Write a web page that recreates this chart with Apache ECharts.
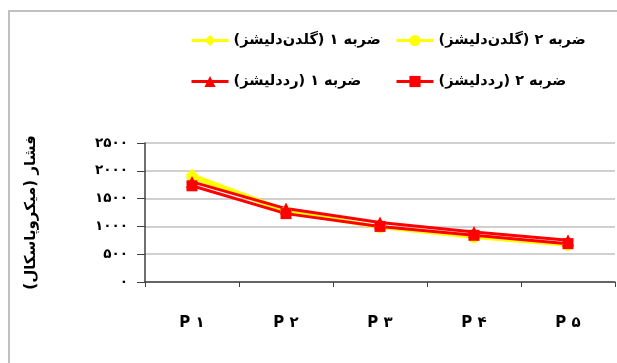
<!DOCTYPE html>
<html>
<head>
<meta charset="utf-8">
<script src="https://cdn.jsdelivr.net/npm/echarts@6/dist/echarts.min.js"></script>
<style>
  html, body { margin: 0; padding: 0; background: #fff; }
  #chart { width: 617px; height: 363px; }
</style>
</head>
<body>
<div id="chart"></div>
<script>
// Sampling points along the fruit
const categories = ['P ۱', 'P ۲', 'P ۳', 'P ۴', 'P ۵'];

// Pressure (micropascal) per impact and cultivar
const goldenHit1 = [1930, 1290, 990, 810, 670];
const goldenHit2 = [1880, 1260, 980, 800, 660];
const redHit1 = [1800, 1320, 1070, 900, 750];
const redHit2 = [1730, 1230, 1000, 840, 690];

const seriesNames = [
  'ضربه ۱ (گلدن‌دلیشز)',
  'ضربه ۲ (گلدن‌دلیشز)',
  'ضربه ۱ (رددلیشز)',
  'ضربه ۲ (رددلیشز)'
];

const yTicks = { min: 0, max: 2500, interval: 500 };
const yAxisTitle = 'فشار (میکروپاسکال)';

const FONT = 'DejaVu Sans';
const toFa = s => String(s).replace(/[0-9]/g, d => '۰۱۲۳۴۵۶۷۸۹'[+d]);

const YELLOW = '#ffff00';
const RED = '#ff0000';

function lineSeries(name, data, color, symbol, size) {
  return {
    name, type: 'line', data,
    symbol, symbolSize: size,
    lineStyle: { color, width: 3 },
    itemStyle: { color, borderWidth: 0 },
    emphasis: { disabled: true },
    animation: false
  };
}

function legendAt(name, left, top) {
  return {
    data: [name], left, top,
    itemWidth: 37, itemHeight: 14,
    lineStyle: { width: 3 },
    textStyle: { fontFamily: FONT, fontWeight: 'bold', fontSize: 14.5, color: '#000' },
    selectedMode: false
  };
}

const chart = echarts.init(document.getElementById('chart'), null, { renderer: 'canvas' });
chart.setOption({
  backgroundColor: '#fff',
  animation: false,
  graphic: [{
    type: 'rect', silent: true,
    shape: { x: 9, y: 11, width: 700, height: 400 },
    style: { fill: 'none', stroke: '#c0c0c0', lineWidth: 2 }
  }],
  legend: [
    legendAt(seriesNames[0], 185, 28),
    legendAt(seriesNames[1], 390, 28),
    legendAt(seriesNames[2], 185, 69),
    legendAt(seriesNames[3], 390, 69)
  ],
  grid: { left: 145, right: 2, top: 143, height: 139, containLabel: false },
  xAxis: {
    type: 'category', data: categories, boundaryGap: true,
    axisLine: { lineStyle: { color: '#404040', width: 1.5 } },
    axisTick: { show: true, length: 5, lineStyle: { color: '#404040' } },
    axisLabel: { margin: 34, fontFamily: FONT, fontWeight: 'bold', fontSize: 15, color: '#000' },
    splitLine: { show: false }
  },
  yAxis: {
    type: 'value', min: yTicks.min, max: yTicks.max, interval: yTicks.interval,
    name: yAxisTitle, nameLocation: 'middle', nameRotate: 90, nameGap: 106,
    nameTextStyle: { fontFamily: FONT, fontWeight: 'bold', fontSize: 15, color: '#000' },
    axisLine: { show: true, lineStyle: { color: '#404040', width: 1.5 } },
    axisTick: { show: true, inside: false, length: 8, lineStyle: { color: '#404040' } },
    axisLabel: { margin: 17, fontFamily: FONT, fontWeight: 'bold', fontSize: 13.5, color: '#000',
      formatter: v => toFa(v) },
    splitLine: { show: true, lineStyle: { color: '#c0c0c0', width: 1.5 } }
  },
  series: [
    lineSeries(seriesNames[0], goldenHit1, YELLOW, 'diamond', 12),
    lineSeries(seriesNames[1], goldenHit2, YELLOW, 'circle', 11),
    lineSeries(seriesNames[2], redHit1, RED, 'triangle', 12),
    lineSeries(seriesNames[3], redHit2, RED, 'rect', 11)
  ]
});
</script>
</body>
</html>
